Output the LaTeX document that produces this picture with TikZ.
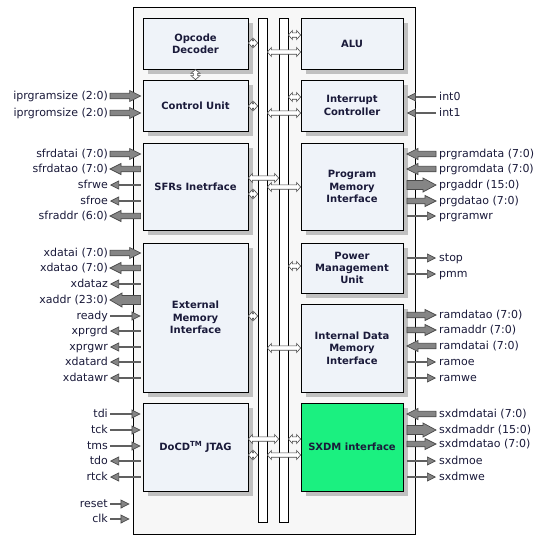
\documentclass[tikz,border=0pt]{standalone}
\usepackage{fontspec}
\setmainfont{DejaVu Sans}
\usetikzlibrary{arrows.meta, calc, shadows}

\definecolor{chipfill}{HTML}{F7F7F7}
\definecolor{blockfill}{HTML}{EFF3F9}
\definecolor{shade}{HTML}{C0C0C0}
\definecolor{sxdmgreen}{HTML}{1BF080}
\definecolor{wire}{HTML}{606060}
\definecolor{tipfill}{HTML}{858585}
\definecolor{tipline}{HTML}{4A4A4A}
\definecolor{txt}{HTML}{1A1A3A}

% fat bus arrow: shaft half, head half, head length, tail, tip
\newcommand{\busarrow}[5]{%
  \draw[busarr] ($#4!#1!90:#5$) -- ($#5!#3!#4!#1!-90:#4$) -- ($#5!#3!#4!#2!-90:#4$) -- #5
    -- ($#5!#3!#4!#2!90:#4$) -- ($#5!#3!#4!#1!90:#4$) -- ($#4!#1!-90:#5$) -- cycle;}
% hollow two-way link between a unit and a bus
\newcommand{\linkarrow}[2]{%
  \draw[link] #1 -- ($#1!4pt!#2!4.5pt!90:#2$) -- ($#1!4pt!#2!2.2pt!90:#2$)
    -- ($#2!4pt!#1!2.2pt!-90:#1$) -- ($#2!4pt!#1!4.5pt!-90:#1$) -- #2
    -- ($#2!4pt!#1!4.5pt!90:#1$) -- ($#2!4pt!#1!2.2pt!90:#1$)
    -- ($#1!4pt!#2!2.2pt!-90:#2$) -- ($#1!4pt!#2!4.5pt!-90:#2$) -- cycle;}

\begin{document}
\begin{tikzpicture}[x=1pt, y=-1pt,
        chip/.style={draw=black, fill=chipfill, line width=0.8pt, inner sep=0pt},
        unit/.style={draw=black, fill=blockfill, line width=0.8pt, align=center, text=txt,
                     font=\bfseries\fontsize{10}{12.3}\selectfont, inner sep=0pt,
                     drop shadow={shadow xshift=4.5pt, shadow yshift=-4.5pt, fill=shade, opacity=1}},
        bar/.style={draw=black, fill=white, line width=0.8pt, minimum width=9pt,
                    minimum height=504pt, inner sep=0pt},
        pin/.style={font=\fontsize{11}{13}\selectfont, text=txt, inner sep=0pt,
                    text height=8pt, text depth=2pt},
        sig/.style={draw=wire, line width=1.6pt,
                    -{Triangle[length=9pt, width=9pt, fill=tipfill, color=tipline, line width=0.7pt]}},
        busarr/.style={draw=tipline, fill=tipfill, line width=0.7pt, line join=miter},
        link/.style={draw=tipline, fill=white, line width=0.6pt}
    ]
    \useasboundingbox[fill=white] (0,0) rectangle (553,541);

    \node[chip, minimum width=282pt, minimum height=527pt] (chip) at (274,270.5) {};
    \node[bar] (busA) at (262.5,270) {};
    \node[bar] (busB) at (283.5,270) {};

    % left column
    \node[unit, minimum width=105pt, minimum height=51pt]  (opc)  at (195.5,43.5)  {Opcode\\Decoder};
    \node[unit, minimum width=105pt, minimum height=51pt]  (ctrl) at (195.5,105.5) {Control Unit};
    \node[unit, minimum width=105pt, minimum height=87pt]  (sfr)  at (195.5,186.5) {SFRs Inetrface};
    \node[unit, minimum width=105pt, minimum height=149pt] (emi)  at (195.5,317.5) {External\\Memory\\Interface};
    \node[unit, minimum width=105pt, minimum height=88pt]  (jtag) at (195.5,447)   {DoCD\textsuperscript{TM} JTAG};
    % right column
    \node[unit, minimum width=102pt, minimum height=51pt]  (alu)  at (352,43.5)  {ALU};
    \node[unit, minimum width=102pt, minimum height=51pt]  (intc) at (352,105.5) {Interrupt\\Controller};
    \node[unit, minimum width=102pt, minimum height=87pt]  (pmi)  at (352,186.5) {Program\\Memory\\Interface};
    \node[unit, minimum width=102pt, minimum height=50pt]  (pmu)  at (352,268)   {Power\\Management\\Unit};
    \node[unit, minimum width=102pt, minimum height=88pt]  (idmi) at (352,348)   {Internal Data\\Memory\\Interface};
    \node[unit, minimum width=102pt, minimum height=88pt, fill=sxdmgreen] (sxdm) at (352,447) {SXDM interface};

    % links to the internal buses
    \linkarrow{(opc.south)}{(ctrl.north)}
    \foreach \n/\y in {opc/43, ctrl/106, sfr/194, emi/316, jtag/455}
        {\linkarrow{(\n.east |- 0,\y)}{(busA.west |- 0,\y)}}
    \foreach \n/\y in {sfr/178, jtag/439}
        {\linkarrow{(\n.east |- 0,\y)}{(busB.west |- 0,\y)}}
    \foreach \n/\y in {alu/35, intc/97, pmu/266, sxdm/439}
        {\linkarrow{(busB.east |- 0,\y)}{(\n.west |- 0,\y)}}
    \foreach \n/\y in {alu/52, intc/113, pmi/187, idmi/348, sxdm/455}
        {\linkarrow{(busA.east |- 0,\y)}{(\n.west |- 0,\y)}}

    % left pins
    \foreach \y/\t in {96/{iprgramsize (2:0)}, 113/{iprgromsize (2:0)}, 154/{sfrdatai (7:0)},
            169/{sfrdatao (7:0)}, 185/sfrwe, 201/sfroe, 216/{sfraddr (6:0)}, 253/{xdatai (7:0)},
            268/{xdatao (7:0)}, 284/xdataz, 300/{xaddr (23:0)}, 316/ready, 331/xprgrd, 347/xprgwr,
            362/xdatard, 378/xdatawr, 414/tdi, 430/tck, 446/tms, 461/tdo, 477/rtck, 504/reset, 519/clk} {
        \node[pin, anchor=east] (L\y) at (108,\y) {\t};
        \coordinate (Lo\y) at ([xshift=2pt]L\y.east);
        \coordinate (Li\y) at ($(L\y.east -| ctrl.west)+(-2,0)$);
    }
    \coordinate (Li504) at ($(L504.east -| chip.west)+(-3,0)$);
    \coordinate (Li519) at ($(L519.east -| chip.west)+(-3,0)$);

    \foreach \y in {96, 113, 154, 253} {\busarrow{2.75pt}{5.5pt}{11pt}{(Lo\y)}{(Li\y)}}
    \foreach \y in {169, 216, 268} {\busarrow{2.75pt}{5.5pt}{11pt}{(Li\y)}{(Lo\y)}}
    \busarrow{4.5pt}{7pt}{12pt}{(Li300)}{(Lo300)}
    \foreach \y in {316, 414, 430, 446, 504, 519} {\draw[sig] (Lo\y) -- (Li\y);}
    \foreach \y in {185, 201, 284, 331, 347, 362, 378, 461, 477} {\draw[sig] (Li\y) -- (Lo\y);}

    % right pins
    \foreach \y/\t in {97/int0, 113/int1, 154/{prgramdata (7:0)}, 169/{prgromdata (7:0)},
            185/{prgaddr (15:0)}, 201/{prgdatao (7:0)}, 216/prgramwr, 258/stop, 274/pmm,
            315/{ramdatao (7:0)}, 330/{ramaddr (7:0)}, 346/{ramdatai (7:0)}, 362/ramoe, 378/ramwe,
            414/{sxdmdatai (7:0)}, 430/{sxdmaddr (15:0)}, 444/{sxdmdatao (7:0)}, 461/sxdmoe, 477/sxdmwe} {
        \node[pin, anchor=west] (R\y) at (439,\y) {\t};
        \coordinate (Ro\y) at ([xshift=-3pt]R\y.west);
        \coordinate (Ri\y) at ($(R\y.west -| alu.east)+(3.5,0)$);
    }

    \foreach \y in {154, 169, 346, 414} {\busarrow{2.75pt}{5.5pt}{11pt}{(Ro\y)}{(Ri\y)}}
    \foreach \y in {201, 315, 330, 444} {\busarrow{2.75pt}{5.5pt}{11pt}{(Ri\y)}{(Ro\y)}}
    \foreach \y in {185, 430} {\busarrow{4.5pt}{7pt}{13pt}{(Ri\y)}{(Ro\y)}}
    \foreach \y in {97, 113} {\draw[sig] (Ro\y) -- (Ri\y);}
    \foreach \y in {216, 258, 274, 362, 378, 461, 477} {\draw[sig] (Ri\y) -- (Ro\y);}
\end{tikzpicture}
\end{document}
